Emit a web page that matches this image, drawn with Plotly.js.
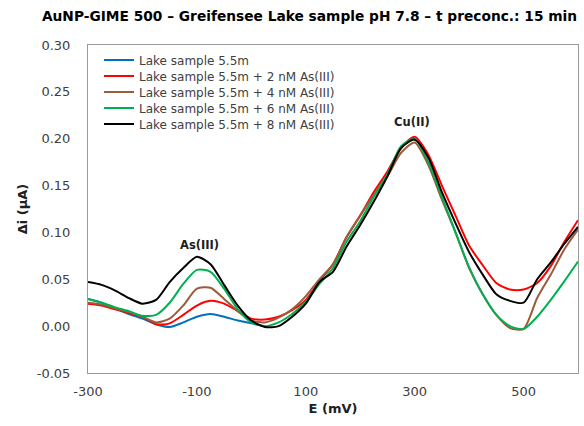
<!DOCTYPE html>
<html>
<head>
<meta charset="utf-8">
<script src="https://cdn.plot.ly/plotly-3.0.1.min.js"></script>
<style>html,body{margin:0;padding:0;background:#fff;}#chart{width:584px;height:426px;}</style>
</head>
<body>
<div id="chart"></div>
<script>
// Potential E (mV)
const E = [-300,-275,-250,-225,-200,-175,-150,-125,-100,-75,-50,-25,0,25,50,75,100,125,150,175,200,225,250,275,300,325,350,375,400,425,450,475,500,525,550,575,600];
const E_blue = [-300,-275,-250,-225,-200,-175,-150,-125,-100,-75,-50,-25,0,25];

const seriesNames = [
  "Lake sample 5.5m",
  "Lake sample 5.5m + 2 nM As(III)",
  "Lake sample 5.5m + 4 nM As(III)",
  "Lake sample 5.5m + 6 nM As(III)",
  "Lake sample 5.5m + 8 nM As(III)"
];

const lake = [0.029,0.025,0.019,0.013,0.008,0.002,-0.001,0.004,0.010,0.013,0.010,0.006,0.003,0.000];
const lake2nM = [0.024,0.022,0.018,0.014,0.010,0.002,0.003,0.012,0.022,0.027,0.024,0.016,0.008,0.007,0.010,0.017,0.028,0.048,0.066,0.095,0.118,0.143,0.165,0.190,0.202,0.183,0.150,0.118,0.086,0.065,0.046,0.039,0.039,0.046,0.064,0.090,0.113];
const lake4nM = [0.025,0.023,0.019,0.015,0.010,0.004,0.008,0.022,0.040,0.041,0.029,0.016,0.006,0.004,0.009,0.018,0.032,0.050,0.066,0.095,0.118,0.140,0.160,0.185,0.196,0.172,0.135,0.100,0.062,0.034,0.012,-0.002,-0.003,0.030,0.055,0.082,0.103];
const lake6nM = [0.029,0.025,0.020,0.016,0.011,0.012,0.025,0.045,0.060,0.058,0.040,0.018,0.004,0.000,0.004,0.013,0.026,0.045,0.062,0.090,0.112,0.138,0.162,0.192,0.200,0.175,0.138,0.100,0.063,0.034,0.012,0.000,-0.003,0.010,0.028,0.048,0.069];
const lake8nM = [0.047,0.044,0.038,0.030,0.024,0.028,0.047,0.062,0.074,0.066,0.044,0.022,0.006,-0.001,0.000,0.010,0.024,0.047,0.058,0.085,0.108,0.133,0.160,0.190,0.199,0.180,0.143,0.110,0.079,0.055,0.034,0.027,0.025,0.050,0.068,0.088,0.106];

const colors = ["#0070C0","#FF0000","#9C5B3B","#00B050","#000000"];
const xs = [E_blue, E, E, E, E];
const ys = [lake, lake2nM, lake4nM, lake6nM, lake8nM];

const xTicks = [-300,-100,100,300,500];
const yTicks = [-0.05,0,0.05,0.10,0.15,0.20,0.25,0.30];

const legendIds = ['legend','legend2','legend3','legend4','legend5'];

const traces = ys.map((y,i)=>({
  x: xs[i], y: y, name: seriesNames[i], type: 'scatter', mode: 'lines',
  legend: legendIds[i],
  line: {color: colors[i], width: 2, shape: 'spline', smoothing: 0.7}
}));

const font = "DejaVu Sans, Verdana, sans-serif";
const layout = {
  width: 584, height: 426,
  margin: {l: 88, r: 6, t: 45, b: 53},
  paper_bgcolor: '#fff', plot_bgcolor: '#fff',
  font: {family: font, size: 12, color: '#404040'},
  title: {text: '<b>AuNP-GIME 500 – Greifensee Lake sample pH 7.8 – t preconc.: 15 min</b>',
    font: {family: font, size: 13.75, color: '#000'}, x: 0.53, xanchor: 'center', y: 0.962, yanchor: 'middle'},
  xaxis: {range: [-300, 600], tickvals: xTicks, ticktext: xTicks.map(String),
    showgrid: false, zeroline: false, showline: true, mirror: true, linecolor: '#9a9a9a', linewidth: 1,
    ticks: '', ticklabelstandoff: 6,
    tickfont: {family: font, size: 13, color: '#404040'},
    title: {text: '<b>E (mV)</b>', font: {family: font, size: 13, color: '#202020'}, standoff: 6}},
  yaxis: {range: [-0.05, 0.30], tickvals: yTicks, ticktext: yTicks.map(v=>v.toFixed(2)),
    showgrid: false, zeroline: false, showline: true, mirror: true, linecolor: '#9a9a9a', linewidth: 1,
    ticks: '', ticklabelstandoff: 14,
    tickfont: {family: font, size: 13, color: '#404040'},
    title: {text: '<b>Δi (µA)</b>', font: {family: font, size: 13, color: '#202020'}, standoff: 6}},
  showlegend: true,
  annotations: [
    {x: -96, y: 0.087, xref: 'x', yref: 'y', text: '<b>As(III)</b>', showarrow: false,
     font: {family: font, size: 11.5, color: '#202020'}},
    {x: 296, y: 0.218, xref: 'x', yref: 'y', text: '<b>Cu(II)</b>', showarrow: false,
     font: {family: font, size: 11.5, color: '#202020'}}
  ]
};

const legendCenters = [0.9543, 0.9055, 0.8567, 0.8079, 0.7591];
legendIds.forEach((id,i)=>{
  layout[id] = {x: 0.0225, y: legendCenters[i], xanchor: 'left', yanchor: 'middle',
    bgcolor: 'rgba(0,0,0,0)', font: {family: font, size: 12, color: '#404040'},
    itemwidth: 30, borderwidth: 0};
});

Plotly.newPlot('chart', traces, layout, {displayModeBar: false, staticPlot: true});
</script>
</body>
</html>
